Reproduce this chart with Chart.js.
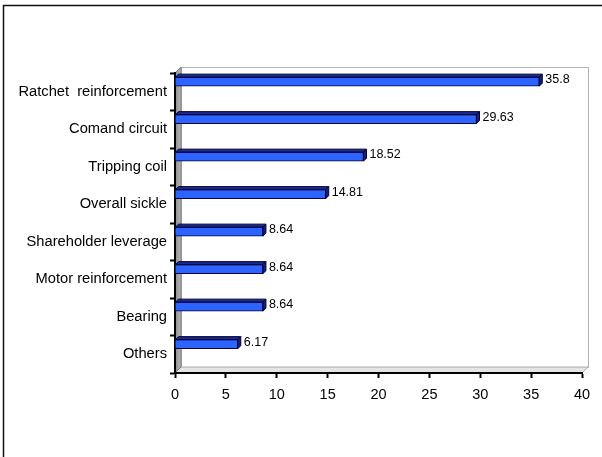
<!DOCTYPE html>
<html>
<head>
<meta charset="utf-8">
<title>Failure causes</title>
<script src="https://cdn.jsdelivr.net/npm/chart.js@4.4.1/dist/chart.umd.min.js"></script>
<style>
    body { margin: 0; background: #fff; }
    #wrap { width: 602px; height: 457px; }
</style>
</head>
<body>
<div id="wrap"><canvas id="causeChart" width="602" height="457"></canvas></div>
<script>
// share of failures per component (%)
var categories = [
    "Ratchet  reinforcement",
    "Comand circuit",
    "Tripping coil",
    "Overall sickle",
    "Shareholder leverage",
    "Motor reinforcement",
    "Bearing",
    "Others"
];
var percentages = [35.8, 29.63, 18.52, 14.81, 8.64, 8.64, 8.64, 6.17];
var xTicks = [0, 5, 10, 15, 20, 25, 30, 35, 40];

// depth of the 3d frame and of each bar
var WALL_DX = 6, WALL_DY = 6, BAR_D = 3;
// bars sit in the upper part of each row, like the old excel 3d look
var BAR_SHIFT = 0.27;

function poly(ctx, pts, fill, stroke) {
    ctx.beginPath();
    ctx.moveTo(pts[0][0], pts[0][1]);
    for (var i = 1; i < pts.length; i++) ctx.lineTo(pts[i][0], pts[i][1]);
    ctx.closePath();
    ctx.fillStyle = fill;
    ctx.fill();
    if (stroke) {
        ctx.strokeStyle = stroke;
        ctx.lineWidth = 1;
        ctx.stroke();
    }
}

var frame3d = {
    id: "frame3d",
    beforeDraw(chart) {
        const { ctx, chartArea: { left, top, right, bottom } } = chart;
        ctx.save();
        // back wall
        ctx.fillStyle = "#fff";
        ctx.strokeStyle = "#b4b4b4";
        ctx.lineWidth = 1;
        ctx.fillRect(left + WALL_DX, top - WALL_DY, right - left, bottom - top);
        ctx.strokeRect(left + WALL_DX + 0.5, top - WALL_DY + 0.5, right - left, bottom - top);
        // floor
        poly(ctx, [[left, bottom], [right, bottom], [right + WALL_DX, bottom - WALL_DY], [left + WALL_DX, bottom - WALL_DY]], "#e4e4e4", "#a8a8a8");
        // side wall
        var g = ctx.createLinearGradient(left, 0, left + WALL_DX, 0);
        g.addColorStop(0, "#8c8c8c");
        g.addColorStop(1, "#b8b8b8");
        poly(ctx, [[left, top], [left + WALL_DX, top - WALL_DY], [left + WALL_DX, bottom - WALL_DY], [left, bottom]], g, "#7a7a7a");
        ctx.restore();
    },
    afterDatasetsDraw(chart) {
        const ctx = chart.ctx;
        const meta = chart.getDatasetMeta(0);
        ctx.save();
        meta.data.forEach(function (bar, i) {
            const p = bar.getProps(["x", "y", "base", "height"], true);
            const t = p.y - p.height / 2, b = p.y + p.height / 2;
            // top face
            poly(ctx, [[p.base, t], [p.x, t], [p.x + BAR_D, t - BAR_D], [p.base + BAR_D, t - BAR_D]], "#1a2a8c", "#000033");
            // end face
            poly(ctx, [[p.x, t], [p.x + BAR_D, t - BAR_D], [p.x + BAR_D, b - BAR_D], [p.x, b]], "#15207a", "#000033");
            ctx.fillStyle = "#000";
            ctx.font = "12.5px Arial, 'Liberation Sans', sans-serif";
            ctx.textBaseline = "middle";
            ctx.textAlign = "left";
            ctx.fillText(String(percentages[i]), p.x + BAR_D + 3, p.y - 2);
        });
        ctx.restore();
    },
    afterDraw(chart) {
        const ctx = chart.ctx;
        ctx.save();
        ctx.strokeStyle = "#111";
        ctx.lineWidth = 1.5;
        ctx.strokeRect(3.5, 5.5, 640, 480);
        ctx.restore();
    }
};

var ctx = document.getElementById("causeChart");
var causeChart = new Chart(ctx, {
    type: "bar",
    data: {
        labels: categories,
        datasets: [
            {
                label: "Failures (%)",
                data: percentages.map(function (v, i) { return { x: v, y: i }; }),
                yAxisID: "yb",
                backgroundColor: "rgb(45, 100, 255)",
                borderColor: "#000040",
                borderWidth: 1,
                barThickness: 9
            }
        ]
    },
    options: {
        indexAxis: "y",
        responsive: false,
        animation: false,
        layout: {
            padding: { left: 0, top: 73, right: 20, bottom: 54 }
        },
        plugins: {
            legend: { display: false },
            tooltip: { enabled: false }
        },
        scales: {
            x: {
                type: "linear",
                min: xTicks[0],
                max: xTicks[xTicks.length - 1],
                afterBuildTicks: function (scale) {
                    scale.ticks = xTicks.map(function (v) { return { value: v }; });
                },
                afterFit: function (scale) { scale.height = 30; },
                ticks: {
                    color: "#000",
                    font: { family: "Arial, 'Liberation Sans', sans-serif", size: 14.5 },
                    padding: 8
                },
                grid: { drawOnChartArea: false, color: "#000", tickLength: 5, tickWidth: 2 },
                border: { color: "#000", width: 2 }
            },
            y: {
                type: "category",
                position: "left",
                offset: true,
                afterFit: function (scale) { scale.width = 175; },
                ticks: {
                    color: "#000",
                    font: { family: "Arial, 'Liberation Sans', sans-serif", size: 14.7 },
                    padding: 3
                },
                grid: { offset: true, drawOnChartArea: false, color: "#000", tickLength: 5, tickWidth: 2 },
                border: { color: "#000", width: 2 }
            },
            yb: {
                type: "linear",
                axis: "y",
                display: false,
                offset: false,
                reverse: true,
                min: -0.5 + BAR_SHIFT,
                max: categories.length - 0.5 + BAR_SHIFT
            }
        }
    },
    plugins: [frame3d]
});
</script>
</body>
</html>
